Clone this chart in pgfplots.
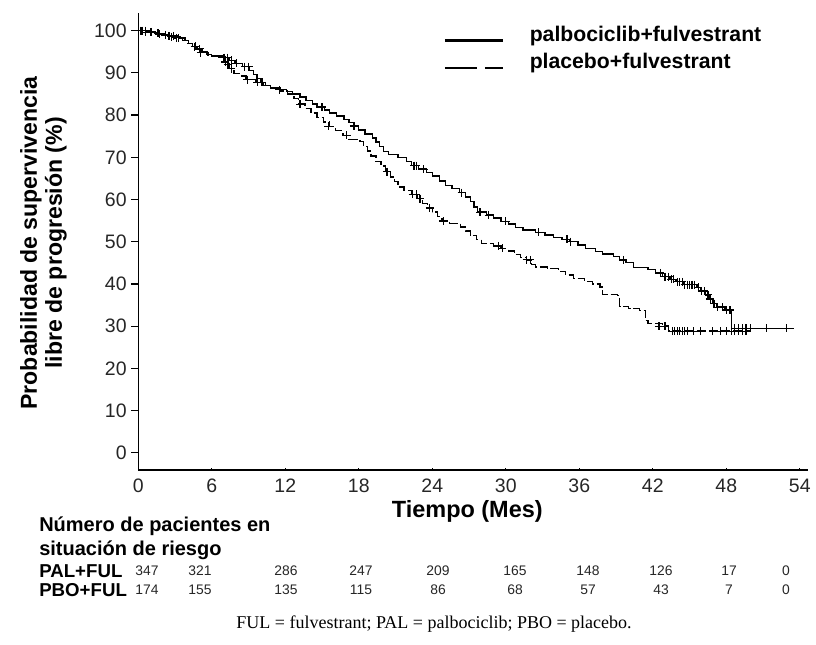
\documentclass[border=0pt]{standalone}
\usepackage{pgfplots}
\pgfplotsset{compat=1.18}
\usepackage{fontspec}
\setmainfont{Liberation Sans}
\newfontfamily\timesfont{Liberation Serif}

\pgfplotstableread{
t S
0 100
0.7 99.7
1.3 99.4
1.9 99.0
2.4 98.6
3.4 98.3
3.8 97.6
4.1 97.0
4.4 96.3
4.8 95.7
5.2 95.0
5.6 94.4
6.0 94.0
6.9 93.6
7.4 93.0
7.9 92.3
8.5 91.5
9.1 90.5
9.4 89.6
9.7 88.6
10.0 87.8
10.4 87.0
10.8 86.4
11.4 86.0
12.1 85.6
12.6 85.0
13.2 84.3
13.7 83.4
14.2 82.6
14.6 81.9
15.2 81.2
15.6 80.5
16.2 79.8
16.8 79.0
17.2 78.3
17.6 77.4
18.0 76.5
18.5 75.5
19.1 74.6
19.4 73.6
19.7 72.6
20.0 71.4
20.4 70.6
21.2 69.9
21.9 69.0
22.3 68.0
22.9 67.2
23.5 66.4
24.0 65.6
24.6 64.4
25.1 63.3
25.6 62.6
26.2 61.6
26.7 60.6
27.1 59.6
27.4 58.2
27.7 57.0
28.4 56.3
29.0 55.6
29.6 54.8
30.2 54.2
30.8 53.4
31.4 52.8
32.4 52.2
33.2 51.6
33.9 51.0
34.6 50.6
35.2 50.0
35.9 49.2
36.5 48.4
37.3 47.7
37.9 47.1
38.8 46.5
39.3 45.7
39.8 45.0
40.4 43.9
41.6 43.4
42.2 42.6
42.8 41.7
43.4 41.1
43.9 40.5
44.5 39.8
45.6 39.2
45.9 38.3
46.3 37.4
46.6 36.4
46.9 35.3
47.2 34.5
47.9 33.8
48.4 29.5
53.5 29.5
}\palcurve

\pgfplotstableread{
t S
0 100
0.8 99.6
1.5 99.2
2.2 98.8
3.0 98.3
3.6 97.6
4.0 96.9
4.4 96.2
4.8 95.5
5.2 94.8
5.7 94.1
6.6 93.8
7.1 92.6
7.4 91.0
7.8 89.9
8.4 89.3
8.8 88.4
9.6 87.8
10.2 87.0
10.8 86.4
11.6 85.7
12.2 85.0
12.7 83.9
13.1 82.6
13.6 81.5
14.1 80.5
14.6 79.5
15.1 78.4
15.6 77.3
16.1 76.3
16.7 75.2
17.2 74.2
18.1 73.7
18.4 72.6
18.7 71.5
19.0 70.3
19.4 69.0
19.8 67.9
20.2 66.6
20.6 65.3
20.9 64.2
21.2 63.0
21.7 62.2
22.3 61.2
22.8 60.2
23.2 59.1
23.6 58.0
24.0 57.0
24.4 55.9
24.8 54.9
25.4 54.3
26.3 53.5
26.7 52.5
27.1 51.4
27.6 50.5
28.0 49.6
29.0 49.0
29.6 48.4
30.2 47.8
30.7 47.0
31.2 46.3
31.7 45.7
32.1 44.6
32.4 44.0
33.4 43.6
34.3 43.0
34.9 42.1
35.5 41.3
36.4 40.6
37.1 40.0
37.7 39.3
37.9 37.5
39.1 37.3
39.3 34.7
40.0 34.2
40.9 33.7
41.4 31.3
41.6 30.6
42.8 30.0
43.3 28.8
49.9 28.8
}\pbocurve

\pgfplotstableread{
t S
0.2 100
0.6 100
1.1 99.7
1.6 99.4
2.2 99.0
2.7 98.6
3.1 98.3
4.7 96.3
5.0 95.7
7.0 93.6
7.3 93.6
7.6 93.0
8.0 92.3
8.7 91.5
9.0 91.5
10.1 87.8
11.5 86.0
15.0 81.9
17.6 77.4
22.5 68.0
22.7 68.0
23.3 67.2
26.4 61.6
27.9 57.0
28.6 56.3
30.0 54.8
32.7 52.2
35.0 50.6
35.3 50.0
39.6 45.7
42.6 42.6
43.0 41.7
43.3 41.7
43.5 41.1
43.7 41.1
44.0 40.5
44.2 40.5
44.4 40.5
44.6 39.8
44.8 39.8
45.0 39.8
45.2 39.8
45.4 39.8
45.7 39.2
46.0 38.3
46.2 38.3
46.5 37.4
46.7 36.4
47.0 35.3
47.3 34.5
47.7 34.5
48.0 33.8
48.3 33.8
48.7 29.5
49.0 29.5
49.3 29.5
49.6 29.5
50.0 29.5
51.3 29.5
52.9 29.5
}\palcens

\pgfplotstableread{
t S
0.3 100
0.6 99.6
1.0 99.6
1.7 99.2
2.5 98.8
2.9 98.8
3.3 98.3
4.6 96.2
5.1 94.8
7.1 92.6
7.3 92.0
7.6 91.0
8.9 88.4
9.7 87.8
13.2 82.6
15.5 77.3
17.0 75.2
20.3 66.6
22.4 61.2
22.7 61.2
23.0 60.2
23.8 58.0
24.9 54.9
29.4 49.0
29.7 48.4
31.7 45.7
32.0 45.7
42.5 30.0
43.0 30.0
43.6 28.8
43.8 28.8
44.0 28.8
44.2 28.8
44.4 28.8
44.6 28.8
44.8 28.8
45.3 28.8
45.9 28.8
46.9 28.8
47.5 28.8
48.0 28.8
48.4 28.8
48.7 28.8
49.0 28.8
49.3 28.8
49.6 28.8
}\pbocens

\begin{document}
\begin{tikzpicture}[x=0.75pt,y=0.75pt]
\path[use as bounding box] (0,0) rectangle (816,644);
\begin{axis}[
  at={(103.725pt,130.5pt)}, anchor=south west,
  x=9.1875pt, y=3.165pt,
  xmin=0, xmax=54.7, ymin=-4.1, ymax=104.2,
  axis x line=bottom, axis y line=left,
  axis line style={-, line width=1pt},
  clip=false,
  ytick={0,10,...,100},
  xtick=\empty,
  extra x ticks={0,6,...,54},
  extra x tick style={tick align=inside, major tick length=1.6pt},
  tick align=outside, major tick length=5.25pt,
  tick style={line width=0.9pt, black},
  /pgf/number format/assume math mode=true,
  tick label style={font=\fontsize{14.6}{16}\selectfont, text=black!85},
  xticklabel style={yshift=-3pt},
  xlabel={Tiempo (Mes)},
  xlabel style={at={(axis description cs:0.491,-0.0897)}, anchor=center, font=\fontsize{17.6}{20}\selectfont\bfseries},
  ylabel={Probabilidad de supervivencia\\libre de progresión (\%)},
  ylabel style={at={(axis description cs:-0.1415,0.497)}, anchor=center, align=center, font=\fontsize{17.3}{18.75}\selectfont\bfseries},
  legend style={draw=none, fill=none, at={(axis cs:24.87,101.6)}, anchor=north west, inner sep=0pt,
    font=\fontsize{15.9}{18}\selectfont\bfseries, row sep=4.5pt,
    nodes={inner sep=1.5pt},
    /tikz/every odd column/.append style={column sep=17pt}},
  legend cell align=left,
  legend image code/.code={\draw[#1] (0pt,-4pt) -- (44pt,-4pt);},
]
\addlegendimage{black, line width=2.4pt}
\addlegendentry{palbociclib+fulvestrant}
\addlegendimage{black, line width=1.6pt, dash pattern=on 24pt off 6pt on 14pt off 30pt}
\addlegendentry{placebo+fulvestrant}

\addplot[const plot, black, line width=1pt, forget plot] table[x=t,y=S] {\palcurve};
\addplot[const plot, black, line width=1pt, dash pattern=on 7pt off 2.2pt, forget plot] table[x=t,y=S] {\pbocurve};
\addplot[only marks, mark=+, mark size=3pt, mark options={line width=0.9pt, black}, forget plot] table[x=t,y=S] {\palcens};
\addplot[only marks, mark=+, mark size=3pt, mark options={line width=0.9pt, black}, forget plot] table[x=t,y=S] {\pbocens};
\end{axis}

% number at risk table
\begin{scope}[every node/.style={inner sep=0pt}]
\node[anchor=west, font=\fontsize{15}{18}\selectfont\bfseries] at (39,{644-526}) {Número de pacientes en};
\node[anchor=west, font=\fontsize{15}{18}\selectfont\bfseries] at (39,{644-550}) {situación de riesgo};
\node[anchor=west, font=\fontsize{14}{16}\selectfont\bfseries] at (39,{644-571}) {PAL+FUL};
\node[anchor=west, font=\fontsize{14}{16}\selectfont\bfseries] at (39,{644-590}) {PBO+FUL};
\foreach \xx/\va/\vb in {147/347/174, 200/321/155, 286/286/135, 361/247/115, 438/209/86, 515/165/68, 588/148/57, 661/126/43, 729/17/7, 786/0/0}{
  \node[font=\fontsize{10.4}{12}\selectfont, text=black!85] at (\xx,{644-571}) {\va};
  \node[font=\fontsize{10.4}{12}\selectfont, text=black!85] at (\xx,{644-590}) {\vb};
}
\node[font=\fontsize{13.5}{16}\timesfont] at (434,{644-624}) {FUL = fulvestrant; PAL = palbociclib; PBO = placebo.};
\end{scope}
\end{tikzpicture}
\end{document}
